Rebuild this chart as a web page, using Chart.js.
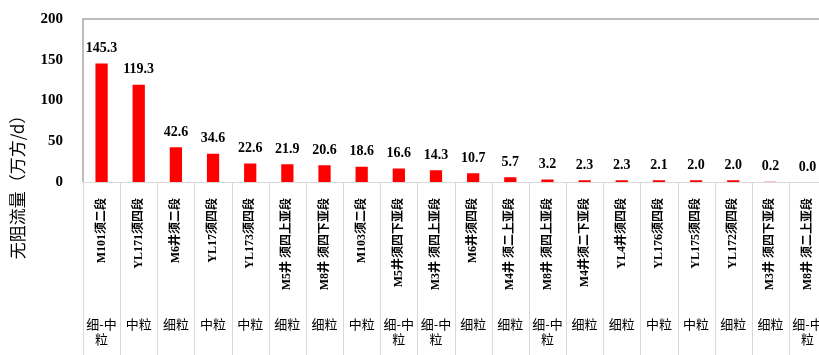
<!DOCTYPE html>
<html lang="zh-CN">
<head>
    <meta charset="UTF-8"/>
    <title>无阻流量</title>
    <style>
        html, body { margin: 0; padding: 0; background: #fff; overflow: hidden; }
        #chartBox { width: 830px; height: 355px; }
    </style>
    <script src="https://cdn.jsdelivr.net/npm/chart.js"></script>
</head>
<body>
    <div id="chartBox">
        <canvas id="myChart" width="830" height="355"></canvas>
    </div>
    <script>
        // 井号与层段
        var wells = [
            'M101须二段', 'YL171须四段', 'M6井须二段', 'YL17须四段', 'YL173须四段',
            'M5井 须四上亚段', 'M8井 须四下亚段', 'M103须二段', 'M5井须四下亚段', 'M3井 须四上亚段',
            'M6井须四段', 'M4井 须二上亚段', 'M8井 须四上亚段', 'M4井须二下亚段', 'YL4井须四段',
            'YL176须四段', 'YL175须四段', 'YL172须四段', 'M3井 须四下亚段', 'M8井 须二上亚段'
        ];
        // 无阻流量 (万方/d)
        var flow = [145.3, 119.3, 42.6, 34.6, 22.6, 21.9, 20.6, 18.6, 16.6, 14.3,
                    10.7, 5.7, 3.2, 2.3, 2.3, 2.1, 2.0, 2.0, 0.2, 0.0];
        // 岩性粒度
        var grain = [
            ['细-中', '粒'], '中粒', '细粒', '中粒', '中粒',
            '细粒', '细粒', '中粒', ['细-中', '粒'], ['细-中', '粒'],
            '细粒', '细粒', ['细-中', '粒'], '细粒', '细粒',
            '中粒', '中粒', '细粒', '细粒', ['细-中', '粒']
        ];
        var yTicks = [0, 50, 100, 150, 200];

        var serif = "'Liberation Serif', 'Noto Sans CJK SC', serif";
        var cjk = "'Noto Sans CJK SC', sans-serif";

        // 表格线、边框和纵轴标题
        var tablePlugin = {
            id: 'tablePlugin',
            afterDraw: function(chart) {
                var ctx = chart.ctx;
                var area = chart.chartArea;
                var xs = chart.scales.x;
                var h = chart.height;
                ctx.save();
                ctx.strokeStyle = '#d9d9d9';
                ctx.lineWidth = 1;
                for (var i = 0; i <= wells.length; i++) {
                    var px = Math.round(xs.getPixelForValue(i - 0.5)) + 0.5;
                    ctx.beginPath();
                    ctx.moveTo(px, area.bottom);
                    ctx.lineTo(px, h);
                    ctx.stroke();
                }
                ctx.beginPath();
                ctx.moveTo(area.left, area.bottom + 0.5);
                ctx.lineTo(area.right, area.bottom + 0.5);
                ctx.stroke();

                ctx.strokeStyle = '#a6a6a6';
                ctx.lineWidth = 1.5;
                ctx.beginPath();
                ctx.moveTo(area.left, area.bottom);
                ctx.lineTo(area.left, area.top);
                ctx.lineTo(area.right, area.top);
                ctx.stroke();

                ctx.fillStyle = '#000';
                ctx.font = '17px ' + cjk;
                ctx.textAlign = 'center';
                ctx.textBaseline = 'middle';
                ctx.translate(18, 183);
                ctx.rotate(-Math.PI / 2);
                ctx.fillText('无阻流量（万方/d）', 0, 0);
                ctx.restore();
            }
        };

        // 柱顶数值
        var valuePlugin = {
            id: 'valuePlugin',
            afterDatasetsDraw: function(chart) {
                var ctx = chart.ctx;
                var meta = chart.getDatasetMeta(0);
                ctx.save();
                ctx.fillStyle = '#000';
                ctx.font = 'bold 14px ' + serif;
                ctx.textAlign = 'center';
                ctx.textBaseline = 'bottom';
                meta.data.forEach(function(bar, i) {
                    ctx.fillText(flow[i].toFixed(1), bar.x, bar.y - 8);
                });
                ctx.restore();
            }
        };

        var ctx = document.getElementById('myChart').getContext('2d');
        var myChart = new Chart(ctx, {
            type: 'bar',
            data: {
                labels: wells,
                datasets: [{
                    label: '无阻流量',
                    data: flow,
                    backgroundColor: '#ff0000',
                    barPercentage: 0.33,
                    categoryPercentage: 1,
                    xAxisID: 'x',
                    yAxisID: 'y'
                }]
            },
            options: {
                responsive: false,
                devicePixelRatio: 1,
                animation: false,
                layout: { padding: { top: 19, right: 2, left: 0, bottom: 0 } },
                plugins: {
                    legend: { display: false },
                    tooltip: { enabled: false }
                },
                scales: {
                    y: {
                        min: 0,
                        max: 200,
                        afterBuildTicks: function(scale) {
                            scale.ticks = yTicks.map(function(v) { return { value: v }; });
                        },
                        // 刻度线不画，只用它的长度把数字推离坐标轴
                        grid: { display: false, drawTicks: true, tickLength: 20 },
                        border: { display: false },
                        ticks: {
                            color: '#000',
                            padding: 0,
                            font: { family: serif, size: 15, weight: 'bold' }
                        },
                        afterFit: function(scale) { scale.width = 83; }
                    },
                    x: {
                        weight: 0,
                        offset: true,
                        grid: { display: false },
                        border: { display: false },
                        ticks: {
                            autoSkip: false,
                            minRotation: 90,
                            maxRotation: 90,
                            padding: 8,
                            color: '#000',
                            font: { family: serif, size: 12, weight: 'bold' }
                        },
                        afterFit: function(scale) { scale.height = 120; }
                    },
                    x2: {
                        type: 'category',
                        position: 'bottom',
                        weight: 1,
                        labels: grain,
                        offset: true,
                        grid: { display: false },
                        border: { display: false },
                        ticks: {
                            autoSkip: false,
                            maxRotation: 0,
                            padding: 6,
                            color: '#000',
                            font: { family: cjk, size: 13, lineHeight: 1.2 }
                        },
                        afterFit: function(scale) { scale.height = 53; }
                    }
                }
            },
            plugins: [tablePlugin, valuePlugin]
        });
    </script>
</body>
</html>
